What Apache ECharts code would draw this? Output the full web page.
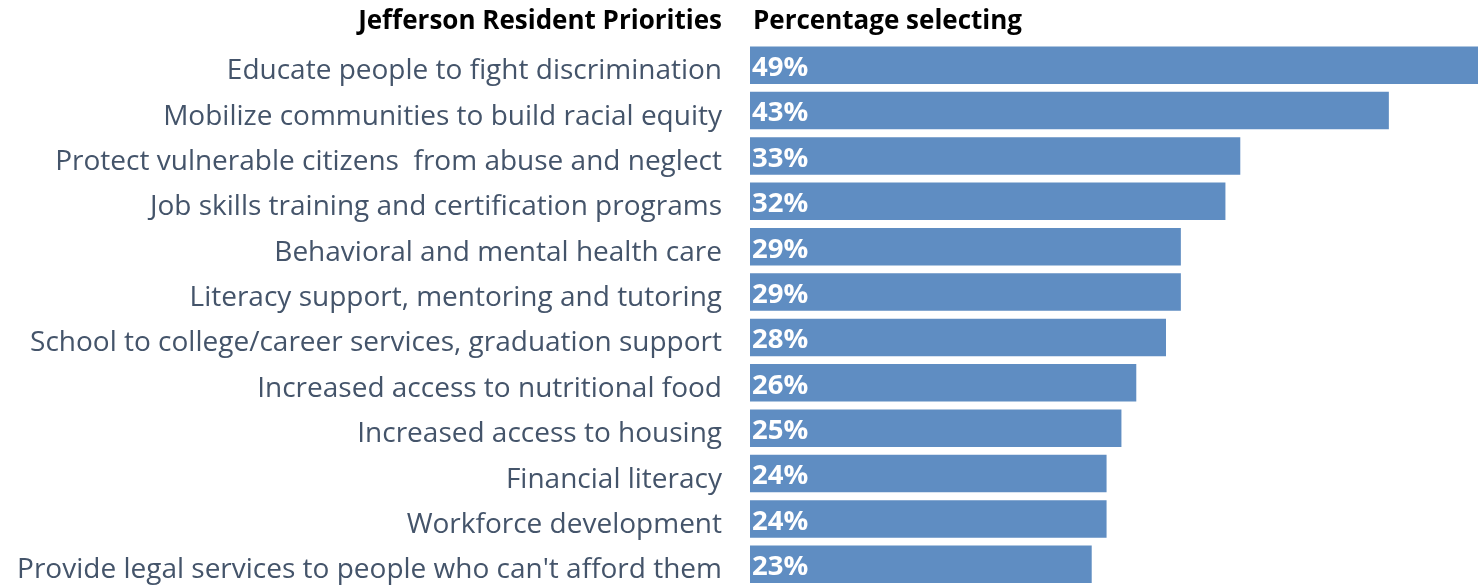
<!DOCTYPE html>
<html>
<head>
<meta charset="utf-8">
<script src="https://cdn.jsdelivr.net/npm/echarts@6/dist/echarts.min.js"></script>
<style>
  html, body { margin: 0; padding: 0; background: #ffffff; }
  #chart { width: 1483px; height: 587px; }
</style>
</head>
<body>
<div id="chart"></div>
<script>
// Priorities, listed top to bottom
const categories = [
  "Educate people to fight discrimination",
  "Mobilize communities to build racial equity",
  "Protect vulnerable citizens  from abuse and neglect",
  "Job skills training and certification programs",
  "Behavioral and mental health care",
  "Literacy support, mentoring and tutoring",
  "School to college/career services, graduation support",
  "Increased access to nutritional food",
  "Increased access to housing",
  "Financial literacy",
  "Workforce development",
  "Provide legal services to people who can't afford them"
];
// Share of residents selecting each priority (%)
const percentages = [49, 43, 33, 32, 29, 29, 28, 26, 25, 24, 24, 23];

const headerLeft = "Jefferson Resident Priorities";
const headerRight = "Percentage selecting";

const FONT = "'Open Sans', sans-serif";
const chart = echarts.init(document.getElementById('chart'));

chart.setOption({
  animation: false,
  backgroundColor: '#ffffff',
  grid: { left: 750, right: 5, top: 42.5, height: 551.5, containLabel: false },
  xAxis: {
    type: 'value', min: 0, max: 49,
    show: false
  },
  yAxis: {
    type: 'category',
    data: categories,
    inverse: true,
    axisLine: { show: false },
    axisTick: { show: false },
    splitLine: { show: false },
    axisLabel: {
      margin: 28,
      formatter: v => '{t|' + v + '}',
      rich: {
        t: {
          padding: [12, 0, 0, 0],
          fontFamily: FONT,
          fontSize: 28,
          color: '#44546a'
        }
      }
    }
  },
  graphic: [
    {
      type: 'text', x: 722, y: 22,
      style: {
        text: headerLeft, textAlign: 'right', textVerticalAlign: 'middle',
        fontFamily: FONT, fontWeight: 'bold', fontSize: 26, fill: '#000000'
      }
    },
    {
      type: 'text', x: 753, y: 22,
      style: {
        text: headerRight, textAlign: 'left', textVerticalAlign: 'middle',
        fontFamily: FONT, fontWeight: 'bold', fontSize: 26, fill: '#000000'
      }
    }
  ],
  series: [{
    type: 'bar',
    data: percentages,
    barWidth: 37.5,
    itemStyle: { color: '#5f8dc2' },
    label: {
      show: true,
      position: 'insideLeft',
      distance: 2,
      formatter: p => '{v|' + p.value + '%}',
      rich: {
        v: {
          padding: [6, 0, 0, 0],
          fontFamily: FONT,
          fontWeight: 'bold',
          fontSize: 27.5,
          color: '#ffffff'
        }
      }
    }
  }]
});
</script>
</body>
</html>
